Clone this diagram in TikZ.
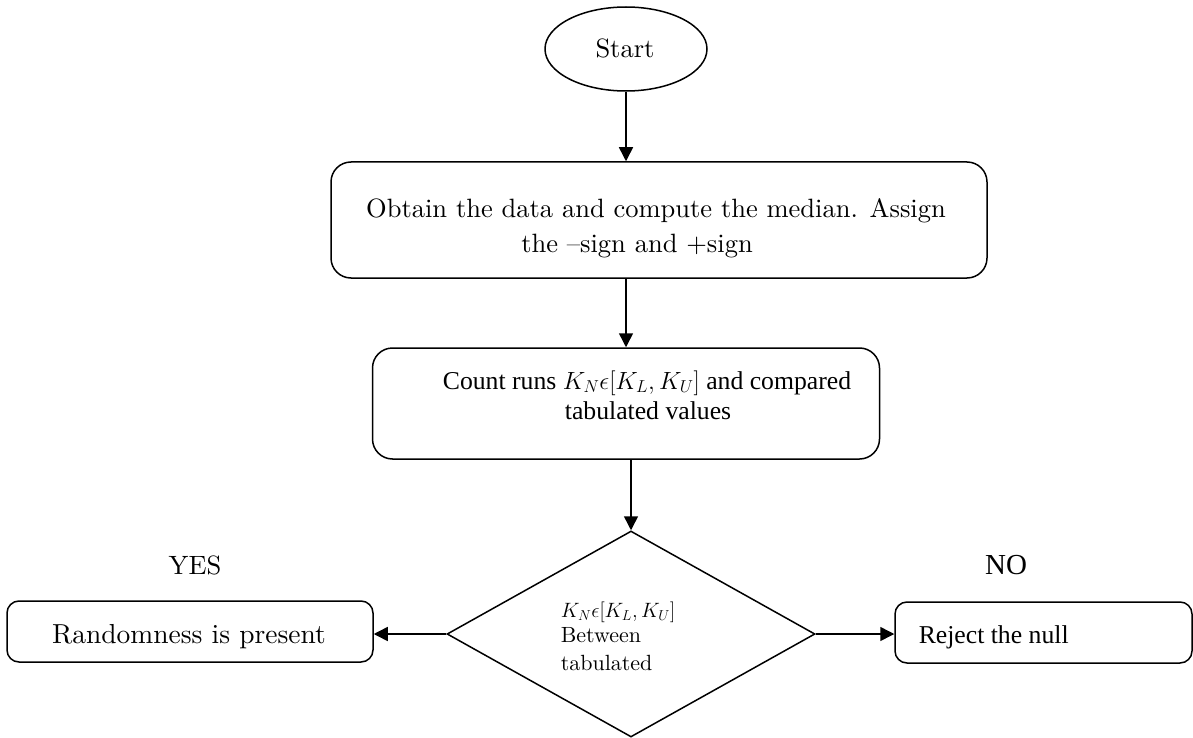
\documentclass[tikz,border=0pt]{standalone}
\usepackage{fontspec}
\newfontfamily\tms{Liberation Serif}
\newfontfamily\pal{lmroman10-regular.otf}
\usetikzlibrary{shapes.geometric,arrows.meta}
\begin{document}
\begin{tikzpicture}[x=1pt,y=-1pt,line width=1.5pt,
  box/.style={draw,rounded corners=20pt,inner sep=0pt},
  sbox/.style={draw,rounded corners=12pt,inner sep=0pt},
  arr/.style={-{Triangle[length=14pt,width=14pt]}},
  lbl/.style={inner sep=0pt,anchor=base},
  pal/.style={font=\pal\fontsize{26.5}{30}\selectfont},
  palb/.style={font=\pal\fontsize{27.5}{30}\selectfont},
  tim/.style={font=\tms\fontsize{25.7}{28}\selectfont},
  timb/.style={font=\tms\fontsize{29}{32}\selectfont},
  small/.style={font=\pal\fontsize{22}{24}\selectfont}]
\useasboundingbox (0,0) rectangle (1193,738);
% shapes
\node[draw,ellipse,minimum width=162pt,minimum height=84pt,inner sep=0pt] (start) at (626,49) {};
\node[box,minimum width=656pt,minimum height=116pt] (b1) at (659,220) {};
\node[box,minimum width=507pt,minimum height=111pt] (b2) at (626,403.5) {};
\node[draw,diamond,minimum width=368pt,minimum height=206pt,inner sep=0pt] (dia) at (631,634) {};
\node[sbox,minimum width=366pt,minimum height=61pt] (yes) at (190,631.5) {};
\node[sbox,minimum width=297pt,minimum height=61pt] (no) at (1043.5,632.5) {};
% texts
\node[lbl,pal] (tstart) at (625,58) {Start};
\node[lbl,pal] (t1a) at (656,217) {Obtain the data and compute the median. Assign};
\node[lbl,pal] (t1b) at (637,252) {the –sign and +sign};
\node[lbl,tim] (t2a) at (647,389) {Count runs $K_N\epsilon[K_L,K_U]$ and compared};
\node[lbl,tim] (t2b) at (648,419) {tabulated values};
\node[lbl,small,anchor=base west] (d1) at (560,617) {$K_N\epsilon[K_L,K_U]$};
\node[lbl,small,anchor=base west] (d2) at (560,642) {Between};
\node[lbl,small,anchor=base west] (d3) at (560,670) {tabulated};
\node[lbl,palb] (tyes) at (189,643) {Randomness is present};
\node[lbl,tim,anchor=base west] (tno) at (918,643) {Reject the null};
\node[lbl,pal] (lyes) at (195,574) {YES};
\node[lbl,timb] (lno) at (1006,574) {NO};
% connectors
\draw[arr] (start.south) -- (start.south |- b1.north);
\draw[arr] (b2.north |- b1.south) -- (b2.north);
\draw[arr] (dia.north |- b2.south) -- (dia.north);
\draw[arr] (dia.west) -- (dia.west -| yes.east);
\draw[arr] (dia.east) -- (dia.east -| no.west);
\end{tikzpicture}
\end{document}
